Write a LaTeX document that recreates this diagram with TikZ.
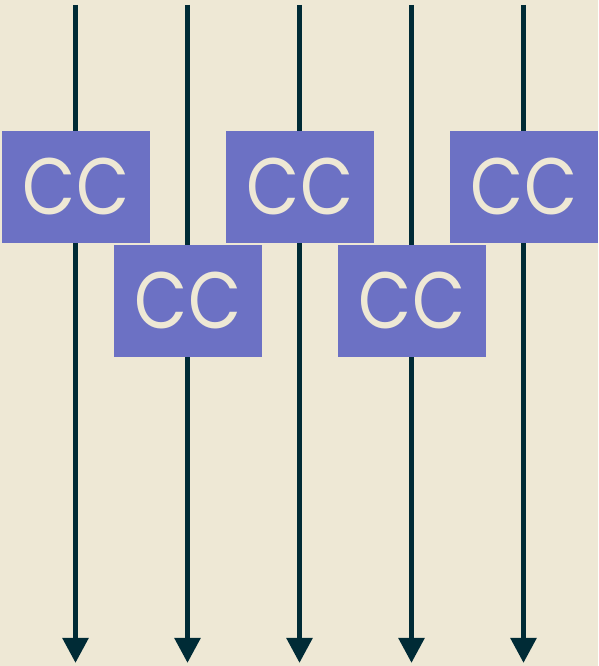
\documentclass[tikz,border=0pt]{standalone}
\usepackage{fontspec}
\setmainfont{Poppins}
\newfontfamily\ccfont[FakeStretch=0.86]{Poppins}
\usetikzlibrary{arrows.meta}
\definecolor{bg}{HTML}{EEE8D5}
\definecolor{ln}{HTML}{002B36}
\definecolor{vio}{HTML}{6C71C4}
\tikzset{
  wire/.style={line width=5.5pt, draw=ln, -{Triangle[width=25pt,length=25pt]}},
  ccbox/.style={fill=vio, minimum width=148pt, minimum height=112pt, inner sep=0pt,
    text=bg, font=\ccfont\fontsize{80}{80}\selectfont}
}
\begin{document}
\begin{tikzpicture}[x=1pt,y=1pt]
\fill[bg] (0,0) rectangle (598,666);
\useasboundingbox (0,0) rectangle (598,666);
\foreach \i/\x in {1/75.5,2/187.5,3/299.5,4/411.5,5/523.5}{
  \coordinate (t\i) at (\x,661);
  \coordinate (b\i) at (\x,3);
  \draw[wire] (t\i) -- (b\i);
}
\node[ccbox] (c1) at (76,479) {\raisebox{-4pt}{CC}};
\node[ccbox] (c2) at (188,365) {\raisebox{-4pt}{CC}};
\node[ccbox] (c3) at (300,479) {\raisebox{-4pt}{CC}};
\node[ccbox] (c4) at (412,365) {\raisebox{-4pt}{CC}};
\node[ccbox] (c5) at (524,479) {\raisebox{-4pt}{CC}};
\end{tikzpicture}
\end{document}
